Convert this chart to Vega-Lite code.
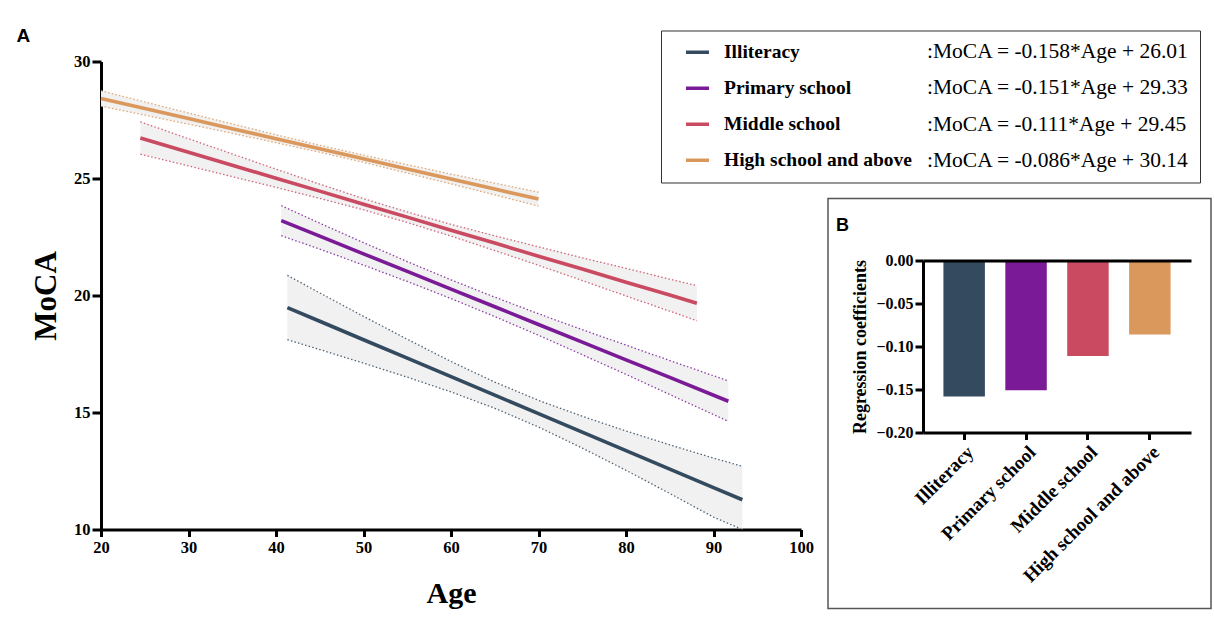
{
  "$schema": "https://vega.github.io/schema/vega-lite/v6.json",
  "padding": {"left": 16, "top": 26.5, "right": 0, "bottom": 0},
  "background": "white",
  "config": {
    "view": {"stroke": null},
    "font": "Liberation Serif",
    "axis": {
      "labelFont": "Liberation Serif", "titleFont": "Liberation Serif",
      "labelFontWeight": "bold", "titleFontWeight": "bold",
      "labelColor": "black", "titleColor": "black",
      "domainColor": "black", "tickColor": "black", "grid": false
    }
  },
  "datasets": {
    "bands": [
      {"g": "Illiteracy", "age": 41.3, "fit": 19.48, "lo": 18.11, "hi": 20.86},
      {"g": "Illiteracy", "age": 45, "fit": 18.90, "lo": 17.69, "hi": 20.11},
      {"g": "Illiteracy", "age": 50, "fit": 18.11, "lo": 17.11, "hi": 19.11},
      {"g": "Illiteracy", "age": 55, "fit": 17.32, "lo": 16.51, "hi": 18.13},
      {"g": "Illiteracy", "age": 60, "fit": 16.53, "lo": 15.88, "hi": 17.18},
      {"g": "Illiteracy", "age": 65, "fit": 15.74, "lo": 15.18, "hi": 16.30},
      {"g": "Illiteracy", "age": 70, "fit": 14.95, "lo": 14.38, "hi": 15.52},
      {"g": "Illiteracy", "age": 75, "fit": 14.16, "lo": 13.48, "hi": 14.84},
      {"g": "Illiteracy", "age": 80, "fit": 13.37, "lo": 12.53, "hi": 14.21},
      {"g": "Illiteracy", "age": 85, "fit": 12.58, "lo": 11.54, "hi": 13.62},
      {"g": "Illiteracy", "age": 90, "fit": 11.79, "lo": 10.53, "hi": 13.05},
      {"g": "Illiteracy", "age": 93.3, "fit": 11.27, "lo": 10.0, "hi": 12.70},
      {"g": "Primary school", "age": 40.6, "fit": 23.20, "lo": 22.56, "hi": 23.84},
      {"g": "Primary school", "age": 45, "fit": 22.54, "lo": 21.98, "hi": 23.09},
      {"g": "Primary school", "age": 50, "fit": 21.78, "lo": 21.30, "hi": 22.26},
      {"g": "Primary school", "age": 55, "fit": 21.03, "lo": 20.60, "hi": 21.45},
      {"g": "Primary school", "age": 60, "fit": 20.27, "lo": 19.87, "hi": 20.67},
      {"g": "Primary school", "age": 65, "fit": 19.52, "lo": 19.10, "hi": 19.93},
      {"g": "Primary school", "age": 70, "fit": 18.76, "lo": 18.30, "hi": 19.22},
      {"g": "Primary school", "age": 75, "fit": 18.01, "lo": 17.47, "hi": 18.54},
      {"g": "Primary school", "age": 80, "fit": 17.25, "lo": 16.63, "hi": 17.88},
      {"g": "Primary school", "age": 85, "fit": 16.50, "lo": 15.77, "hi": 17.22},
      {"g": "Primary school", "age": 91.7, "fit": 15.48, "lo": 14.62, "hi": 16.35},
      {"g": "Middle school", "age": 24.5, "fit": 26.73, "lo": 26.04, "hi": 27.42},
      {"g": "Middle school", "age": 30, "fit": 26.12, "lo": 25.54, "hi": 26.70},
      {"g": "Middle school", "age": 35, "fit": 25.57, "lo": 25.08, "hi": 26.05},
      {"g": "Middle school", "age": 40, "fit": 25.01, "lo": 24.62, "hi": 25.40},
      {"g": "Middle school", "age": 45, "fit": 24.46, "lo": 24.15, "hi": 24.76},
      {"g": "Middle school", "age": 50, "fit": 23.90, "lo": 23.66, "hi": 24.14},
      {"g": "Middle school", "age": 55, "fit": 23.35, "lo": 23.12, "hi": 23.57},
      {"g": "Middle school", "age": 60, "fit": 22.79, "lo": 22.54, "hi": 23.04},
      {"g": "Middle school", "age": 65, "fit": 22.24, "lo": 21.92, "hi": 22.55},
      {"g": "Middle school", "age": 70, "fit": 21.68, "lo": 21.29, "hi": 22.08},
      {"g": "Middle school", "age": 75, "fit": 21.13, "lo": 20.64, "hi": 21.61},
      {"g": "Middle school", "age": 80, "fit": 20.57, "lo": 19.98, "hi": 21.16},
      {"g": "Middle school", "age": 85, "fit": 20.02, "lo": 19.33, "hi": 20.70},
      {"g": "Middle school", "age": 88.1, "fit": 19.67, "lo": 18.92, "hi": 20.42},
      {"g": "High school and above", "age": 20, "fit": 28.42, "lo": 28.09, "hi": 28.75},
      {"g": "High school and above", "age": 25, "fit": 27.99, "lo": 27.71, "hi": 28.27},
      {"g": "High school and above", "age": 30, "fit": 27.56, "lo": 27.32, "hi": 27.80},
      {"g": "High school and above", "age": 35, "fit": 27.13, "lo": 26.93, "hi": 27.33},
      {"g": "High school and above", "age": 40, "fit": 26.70, "lo": 26.53, "hi": 26.87},
      {"g": "High school and above", "age": 45, "fit": 26.27, "lo": 26.12, "hi": 26.42},
      {"g": "High school and above", "age": 50, "fit": 25.84, "lo": 25.69, "hi": 26.00},
      {"g": "High school and above", "age": 55, "fit": 25.41, "lo": 25.23, "hi": 25.59},
      {"g": "High school and above", "age": 60, "fit": 24.98, "lo": 24.77, "hi": 25.19},
      {"g": "High school and above", "age": 65, "fit": 24.55, "lo": 24.30, "hi": 24.80},
      {"g": "High school and above", "age": 70, "fit": 24.12, "lo": 23.82, "hi": 24.42}
    ],
    "eqs": [
      {"g": "Illiteracy", "eq": ":MoCA = -0.158*Age + 26.01"},
      {"g": "Primary school", "eq": ":MoCA = -0.151*Age + 29.33"},
      {"g": "Middle school", "eq": ":MoCA = -0.111*Age + 29.45"},
      {"g": "High school and above", "eq": ":MoCA = -0.086*Age + 30.14"}
    ],
    "coef": [
      {"g": "Illiteracy", "coef": -0.158},
      {"g": "Primary school", "coef": -0.151},
      {"g": "Middle school", "coef": -0.111},
      {"g": "High school and above", "coef": -0.086}
    ]
  },
  "spacing": 13,
  "hconcat": [
    {
      "width": 700,
      "height": 468,
      "title": {"text": "A", "anchor": "start", "frame": "bounds", "font": "Liberation Sans", "fontSize": 19, "fontWeight": "bold", "color": "black", "dx": -14, "offset": 8},
      "data": {"name": "bands"},
      "encoding": {
        "x": {
          "field": "age", "type": "quantitative",
          "scale": {"domain": [20, 100], "nice": false, "zero": false},
          "axis": {"values": [20, 30, 40, 50, 60, 70, 80, 90, 100], "title": "Age", "titleFontSize": 30, "labelFontSize": 16.5, "tickSize": 7, "tickWidth": 3, "domainWidth": 3, "labelPadding": 3, "titlePadding": 22, "labelFlush": false, "labelOverlap": false}
        }
      },
      "layer": [
        {
          "transform": [{"lookup": "g", "from": {"data": {"name": "eqs"}, "key": "g", "fields": ["eq"]}}],
          "mark": {"type": "area", "color": "#f1f1f1"},
          "encoding": {
            "y": {
              "field": "lo", "type": "quantitative", "title": "MoCA",
              "scale": {"domain": [10, 30], "nice": false, "zero": false},
              "axis": {"values": [10, 15, 20, 25, 30], "titleFontSize": 31, "labelFontSize": 16.5, "tickSize": 9, "tickWidth": 3, "domainWidth": 3, "labelPadding": 2, "titlePadding": 11}
            },
            "y2": {"field": "hi"},
            "detail": {"field": "g"},
            "opacity": {
              "field": "eq", "type": "nominal", "sort": "descending",
              "scale": {"range": [1, 1]},
              "legend": {"title": null, "orient": "none", "legendX": 560, "legendY": -31, "padding": 10.5, "strokeColor": "#333", "symbolSize": 0, "symbolOpacity": 0, "symbolStrokeWidth": 0, "symbolFillColor": "white", "labelFont": "Liberation Serif", "labelFontSize": 21.5, "labelColor": "black", "labelOffset": 234, "rowPadding": 13.5, "labelLimit": 500}
            }
          }
        },
        {
          "transform": [{"fold": ["lo", "hi"], "as": ["edge", "v"]}],
          "mark": {"type": "line", "strokeDash": [1.5, 2.2], "strokeWidth": 1.3, "opacity": 0.85},
          "encoding": {
            "y": {"field": "v", "type": "quantitative", "title": "MoCA"},
            "detail": {"field": "edge"},
            "stroke": {
              "field": "g", "type": "nominal",
              "scale": {"range": ["#DB985C", "#344A5F", "#C94A61", "#7A1A97"]},
              "legend": null
            }
          }
        },
        {
          "mark": {"type": "line", "strokeWidth": 3.6},
          "encoding": {
            "y": {"field": "fit", "type": "quantitative", "title": "MoCA"},
            "color": {
              "field": "g", "type": "nominal",
              "scale": {"domain": ["Illiteracy", "Primary school", "Middle school", "High school and above"], "range": ["#344A5F", "#7A1A97", "#C94A61", "#DB985C"]},
              "legend": {"title": null, "orient": "none", "legendX": 583, "legendY": -22.75, "padding": 0, "symbolType": "stroke", "symbolSize": 529, "symbolStrokeWidth": 3.5, "labelFont": "Liberation Serif", "labelFontWeight": "bold", "labelFontSize": 19.5, "labelColor": "black", "labelOffset": 13, "rowPadding": 13, "labelLimit": 400}
            }
          }
        }
      ]
    },
    {
      "spacing": 20,
      "vconcat": [
        {"width": 383, "height": 116, "data": {"values": []}, "mark": "point"},
        {
          "width": 383,
          "height": 410,
          "view": {"stroke": "#555", "strokeWidth": 1.5},
          "title": {"text": "B", "anchor": "start", "frame": "group", "font": "Liberation Sans", "fontSize": 18, "fontWeight": "bold", "color": "black", "dx": 8, "offset": -36},
          "data": {"name": "coef"},
          "mark": {"type": "bar"},
          "encoding": {
            "x": {
              "field": "g", "type": "nominal",
              "scale": {"domain": ["Illiteracy", "Primary school", "Middle school", "High school and above"], "range": [95, 363], "paddingInner": 0.33, "paddingOuter": 0.33},
              "axis": {"orient": "bottom", "offset": -176, "title": null, "labelAngle": -45, "labelFontSize": 19, "tickSize": 7, "tickWidth": 3, "domainWidth": 3, "labelPadding": 3, "labelLimit": 300}
            },
            "y": {
              "field": "coef", "type": "quantitative",
              "scale": {"domain": [-0.2, 0], "range": [234, 62], "nice": false, "zero": false},
              "axis": {"orient": "left", "offset": -95, "values": [0, -0.05, -0.1, -0.15, -0.2], "format": ".2f", "title": "Regression coefficients", "titleFontSize": 18, "labelFontSize": 16, "tickSize": 8, "tickWidth": 3, "domainWidth": 3, "labelPadding": 2, "titlePadding": 6, "grid": true, "gridColor": {"condition": {"test": "datum.value === 0", "value": "black"}, "value": "transparent"}, "gridWidth": 3, "zindex": 1}
            },
            "fill": {
              "field": "g", "type": "nominal",
              "scale": {"range": ["#DB985C", "#344A5F", "#C94A61", "#7A1A97"]},
              "legend": null
            }
          }
        }
      ]
    }
  ]
}
